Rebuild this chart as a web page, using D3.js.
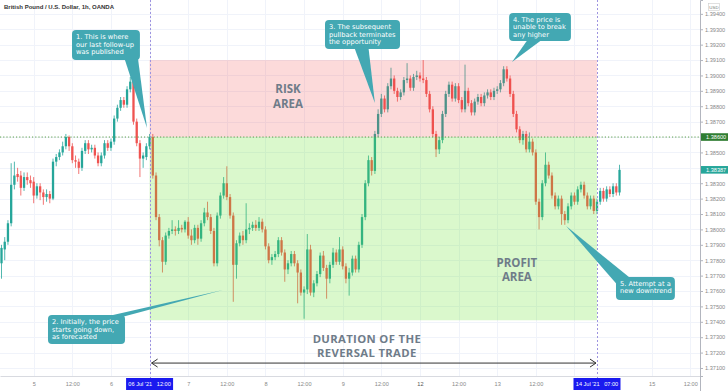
<!DOCTYPE html>
<html><head><meta charset="utf-8">
<script src="https://cdn.jsdelivr.net/npm/d3@7"></script>
<style>html,body{margin:0;padding:0;background:#fff;} svg{display:block;}</style>
</head><body>
<svg id="chart" width="728" height="391"></svg>
<script>
// ---------------- DATA ----------------
const title = "British Pound / U.S. Dollar, 1h, OANDA";
const firstHour = -10; // trading-hour index of first candle (0 = 5 Jul 00:00)
// [open, high, low, close] hourly candles
const ohlc = [
[1.3778,1.3790,1.3768,1.3788],[1.3787,1.3795,1.3780,1.3792],[1.3792,1.3806,1.3790,1.3804],[1.3804,1.3843,1.3802,1.3829],
[1.3829,1.3844,1.3826,1.3835],[1.3836,1.3840,1.3831,1.3834],[1.3835,1.3838,1.3822,1.3827],[1.3827,1.3837,1.3825,1.3834],
[1.3834,1.3837,1.3829,1.3832],[1.3832,1.3835,1.3827,1.3830],[1.3831,1.3834,1.3817,1.3822],[1.3822,1.3830,1.3820,1.3828],
[1.3828,1.3830,1.3819,1.3824],[1.3824,1.3826,1.3816,1.3821],[1.3821,1.3826,1.3818,1.3823],[1.3823,1.3825,1.3817,1.3820],
[1.3820,1.3846,1.3819,1.3844],[1.3844,1.3849,1.3841,1.3847],[1.3847,1.3852,1.3845,1.3850],[1.3850,1.3857,1.3848,1.3854],
[1.3854,1.3862,1.3852,1.3860],[1.3860,1.3861,1.3851,1.3854],[1.3854,1.3856,1.3843,1.3845],[1.3845,1.3848,1.3840,1.3844],
[1.3844,1.3846,1.3836,1.3840],[1.3840,1.3853,1.3838,1.3851],[1.3851,1.3858,1.3849,1.3856],[1.3856,1.3858,1.3849,1.3852],
[1.3852,1.3855,1.3850,1.3853],[1.3853,1.3855,1.3846,1.3848],[1.3848,1.3850,1.3841,1.3843],[1.3843,1.3850,1.3841,1.3848],
[1.3848,1.3858,1.3846,1.3856],[1.3856,1.3858,1.3851,1.3853],[1.3853,1.3859,1.3851,1.3857],[1.3857,1.3874,1.3855,1.3872],
[1.3872,1.3881,1.3870,1.3879],[1.3879,1.3886,1.3877,1.3884],[1.3884,1.3886,1.3879,1.3881],[1.3881,1.3893,1.3879,1.3891],
[1.3891,1.3899,1.3889,1.3896],[1.3896,1.3897,1.3868,1.3870],[1.3870,1.3872,1.3854,1.3856],[1.3856,1.3858,1.3834,1.3846],
[1.3846,1.3850,1.3840,1.3848],[1.3847,1.3856,1.3845,1.3854],[1.3854,1.3862,1.3852,1.3860],[1.3860,1.3862,1.3833,1.3835],
[1.3835,1.3837,1.3806,1.3808],[1.3808,1.3810,1.3789,1.3793],[1.3793,1.3795,1.3772,1.3779],[1.3779,1.3798,1.3777,1.3796],
[1.3796,1.3801,1.3794,1.3799],[1.3799,1.3806,1.3797,1.3800],[1.3800,1.3802,1.3796,1.3799],[1.3799,1.3806,1.3797,1.3801],
[1.3801,1.3803,1.3798,1.3800],[1.3800,1.3806,1.3798,1.3805],[1.3805,1.3808,1.3794,1.3796],[1.3796,1.3800,1.3790,1.3793],
[1.3793,1.3803,1.3791,1.3801],[1.3801,1.3803,1.3790,1.3794],[1.3794,1.3806,1.3792,1.3804],[1.3804,1.3814,1.3802,1.3811],
[1.3811,1.3818,1.3806,1.3808],[1.3808,1.3810,1.3797,1.3799],[1.3799,1.3801,1.3776,1.3778],[1.3778,1.3811,1.3776,1.3809],
[1.3809,1.3824,1.3807,1.3822],[1.3822,1.3834,1.3820,1.3830],[1.3830,1.3841,1.3819,1.3821],[1.3821,1.3823,1.3807,1.3809],
[1.3809,1.3811,1.3753,1.3777],[1.3777,1.3793,1.3768,1.3791],[1.3791,1.3798,1.3789,1.3796],[1.3796,1.3799,1.3790,1.3793],
[1.3793,1.3817,1.3791,1.3800],[1.3800,1.3804,1.3797,1.3801],[1.3801,1.3805,1.3799,1.3803],[1.3803,1.3806,1.3799,1.3801],
[1.3801,1.3808,1.3799,1.3805],[1.3805,1.3807,1.3798,1.3800],[1.3800,1.3802,1.3787,1.3789],[1.3789,1.3791,1.3778,1.3780],
[1.3780,1.3784,1.3777,1.3782],[1.3782,1.3786,1.3780,1.3784],[1.3784,1.3795,1.3782,1.3793],[1.3793,1.3795,1.3783,1.3785],
[1.3785,1.3787,1.3766,1.3774],[1.3774,1.3780,1.3771,1.3778],[1.3778,1.3786,1.3776,1.3784],[1.3784,1.3786,1.3776,1.3778],
[1.3778,1.3780,1.3752,1.3772],[1.3772,1.3774,1.3757,1.3759],[1.3759,1.3763,1.3742,1.3761],[1.3761,1.3797,1.3758,1.3787],
[1.3787,1.3790,1.3757,1.3759],[1.3759,1.3767,1.3756,1.3765],[1.3765,1.3773,1.3763,1.3771],[1.3771,1.3785,1.3769,1.3783],
[1.3783,1.3786,1.3773,1.3775],[1.3775,1.3777,1.3755,1.3768],[1.3768,1.3779,1.3765,1.3777],[1.3777,1.3788,1.3775,1.3785],
[1.3785,1.3787,1.3777,1.3779],[1.3779,1.3795,1.3777,1.3787],[1.3787,1.3789,1.3774,1.3776],[1.3776,1.3778,1.3765,1.3768],
[1.3768,1.3775,1.3757,1.3772],[1.3772,1.3783,1.3770,1.3781],[1.3781,1.3783,1.3772,1.3774],[1.3774,1.3792,1.3772,1.3790],
[1.3790,1.3810,1.3788,1.3808],[1.3808,1.3832,1.3806,1.3830],[1.3830,1.3848,1.3828,1.3845],[1.3845,1.3847,1.3835,1.3838],
[1.3838,1.3864,1.3836,1.3862],[1.3862,1.3878,1.3860,1.3875],[1.3875,1.3888,1.3873,1.3885],[1.3885,1.3887,1.3876,1.3878],
[1.3878,1.3895,1.3876,1.3893],[1.3893,1.3905,1.3891,1.3898],[1.3898,1.3900,1.3888,1.3890],[1.3890,1.3892,1.3883,1.3886],
[1.3886,1.3891,1.3884,1.3889],[1.3889,1.3899,1.3887,1.3897],[1.3897,1.3908,1.3895,1.3898],[1.3898,1.3900,1.3890,1.3892],
[1.3892,1.3901,1.3890,1.3899],[1.3899,1.3903,1.3897,1.3900],[1.3900,1.3902,1.3896,1.3898],[1.3898,1.3910,1.3895,1.3897],
[1.3897,1.3899,1.3886,1.3888],[1.3888,1.3890,1.3876,1.3878],[1.3878,1.3880,1.3860,1.3862],[1.3862,1.3864,1.3847,1.3852],
[1.3852,1.3860,1.3849,1.3858],[1.3858,1.3877,1.3856,1.3875],[1.3875,1.3890,1.3873,1.3888],[1.3888,1.3896,1.3886,1.3894],
[1.3894,1.3896,1.3883,1.3885],[1.3885,1.3895,1.3883,1.3893],[1.3893,1.3895,1.3882,1.3884],[1.3884,1.3886,1.3876,1.3878],
[1.3878,1.3907,1.3876,1.3890],[1.3890,1.3892,1.3880,1.3882],[1.3882,1.3884,1.3874,1.3876],[1.3876,1.3885,1.3874,1.3883],
[1.3883,1.3888,1.3881,1.3886],[1.3886,1.3888,1.3880,1.3882],[1.3882,1.3889,1.3880,1.3887],[1.3887,1.3891,1.3885,1.3889],
[1.3889,1.3891,1.3884,1.3886],[1.3886,1.3892,1.3884,1.3890],[1.3890,1.3893,1.3888,1.3891],[1.3891,1.3897,1.3889,1.3895],
[1.3895,1.3906,1.3893,1.3904],[1.3904,1.3906,1.3896,1.3898],[1.3898,1.3900,1.3886,1.3888],[1.3888,1.3890,1.3873,1.3875],
[1.3875,1.3877,1.3863,1.3865],[1.3865,1.3867,1.3856,1.3858],[1.3858,1.3864,1.3855,1.3862],[1.3862,1.3864,1.3850,1.3852],
[1.3852,1.3863,1.3850,1.3857],[1.3857,1.3859,1.3848,1.3850],[1.3850,1.3852,1.3816,1.3818],[1.3818,1.3820,1.3800,1.3808],
[1.3808,1.3832,1.3806,1.3830],[1.3830,1.3850,1.3828,1.3842],[1.3842,1.3844,1.3833,1.3835],[1.3835,1.3837,1.3820,1.3822],
[1.3822,1.3824,1.3813,1.3815],[1.3815,1.3822,1.3813,1.3820],[1.3820,1.3822,1.3803,1.3810],[1.3810,1.3812,1.3803,1.3806],
[1.3806,1.3817,1.3804,1.3815],[1.3815,1.3824,1.3813,1.3822],[1.3822,1.3824,1.3816,1.3818],[1.3818,1.3828,1.3816,1.3826],
[1.3826,1.3831,1.3824,1.3829],[1.3829,1.3831,1.3820,1.3822],[1.3822,1.3824,1.3813,1.3815],[1.3815,1.3822,1.3813,1.3820],
[1.3820,1.3822,1.3810,1.3812],[1.3812,1.3820,1.3810,1.3818],[1.3818,1.3827,1.3816,1.3825],[1.3825,1.3827,1.3818,1.3820],
[1.3820,1.3828,1.3818,1.3826],[1.3826,1.3828,1.3821,1.3823],[1.3823,1.3830,1.3821,1.3828],[1.3828,1.3830,1.3822,1.3824],
[1.3824,1.3842,1.3822,1.38387]
];
const priceTicks = d3.range(1371, 1395).map(v => v / 1000);
const timeTicks  = [0, 12, 24, 48, 60, 72, 84, 96, 108, 120, 132, 144, 156, 192, 204];
const timeLabels = ["5","12:00","6","7","12:00","8","12:00","9","12:00","12","12:00","13","12:00","15","12:00"];
const markedTimes  = [36, 175];
const markedLabels = ["06 Jul '21   12:00", "14 Jul '21   07:00"];
const refLevel = 1.386;
const lastPrice = 1.38387;
const riskZone = [1.3860, 1.3910];
const profitZone = [1.3741, 1.3860];
const callouts = [
  {lines:["1. This is where","our last follow-up","was published"], box:[11.9,33.0,1.39295,1.39100], base:[[28.2,1.39110],[32.4,1.39110]], tip:[35.2,1.38659]},
  {lines:["2. Initially, the price","starts going down,","as forecasted"], box:[4.44,28.37,1.37444,1.37256], base:[[22.6,1.37434],[28.0,1.37434]], tip:[58.8,1.37607]},
  {lines:["3. The subsequent","pullback terminates","the opportunity"], box:[90.5,113.8,1.39360,1.39172], base:[[99.6,1.39182],[104.0,1.39182]], tip:[106.0,1.38821]},
  {lines:["4. The price is","unable to break","any higher"], box:[147.7,166.9,1.39406,1.39224], base:[[153.5,1.39234],[158.0,1.39234]], tip:[148.6,1.39087]},
  {lines:["5. Attempt at a","new downtrend"], box:[180.9,199.2,1.37691,1.37542], base:[[181.3,1.37640],[185.5,1.37681]], tip:[165.4,1.38022]}
];
const riskLabel = ["RISK","AREA"], riskLabelAt = [79.0, 1.38883];
const profitLabel = ["PROFIT","AREA"], profitLabelAt = [150.1, 1.37759];
const durationLabel = ["DURATION OF THE","REVERSAL TRADE"], durationLabelAt = [103.5, 1.37262];
const durationArrowPrice = 1.37132;

// ---------------- LAYOUT ----------------
const W = 728, H = 391, plotR = 700, plotB = 376;
const svg = d3.select("#chart");
const x = d3.scaleLinear().domain([-10.47, 207]).range([0, plotR]);
const y = d3.scaleLinear().domain([1.37048, 1.39490]).range([plotB, 0]);

const candles = ohlc.map((d, i) => ({t: firstHour + i, o: d[0], h: d[1], l: d[2], c: d[3]}));

// grid
const grid = svg.append("g");
grid.selectAll(".hg").data(priceTicks).join("line")
  .attr("x1", 0).attr("x2", plotR).attr("y1", d => Math.round(y(d)) + 0.5).attr("y2", d => Math.round(y(d)) + 0.5)
  .attr("stroke", "#f0f3fa");
grid.selectAll(".vg").data(timeTicks.concat([36, 168])).join("line")
  .attr("y1", 0).attr("y2", plotB).attr("x1", d => Math.round(x(d)) + 0.5).attr("x2", d => Math.round(x(d)) + 0.5)
  .attr("stroke", "#f0f3fa");

// candles
const up = "#26a69a", dn = "#ef5350";
const cw = 2.3;
const cg = svg.append("g");
cg.selectAll("line").data(candles).join("line")
  .attr("x1", d => x(d.t)).attr("x2", d => x(d.t))
  .attr("y1", d => y(d.h)).attr("y2", d => y(d.l))
  .attr("stroke", d => d.c >= d.o ? up : dn).attr("stroke-width", 0.8);
cg.selectAll("rect").data(candles).join("rect")
  .attr("x", d => x(d.t) - cw / 2).attr("width", cw)
  .attr("y", d => y(Math.max(d.o, d.c)))
  .attr("height", d => Math.max(1, Math.abs(y(d.o) - y(d.c))))
  .attr("fill", d => d.c >= d.o ? up : dn);

// zones (overlaid with transparency)
svg.append("rect").attr("x", x(markedTimes[0])).attr("width", x(markedTimes[1]) - x(markedTimes[0]))
  .attr("y", y(riskZone[1])).attr("height", y(riskZone[0]) - y(riskZone[1]))
  .attr("fill", "rgba(242,70,70,0.2)");
svg.append("rect").attr("x", x(markedTimes[0])).attr("width", x(markedTimes[1]) - x(markedTimes[0]))
  .attr("y", y(profitZone[1])).attr("height", y(profitZone[0]) - y(profitZone[1]))
  .attr("fill", "rgba(100,225,40,0.24)");

// reference dotted line
svg.append("line").attr("x1", 0).attr("x2", plotR).attr("y1", y(refLevel)).attr("y2", y(refLevel))
  .attr("stroke", "#5a9e4a").attr("stroke-width", 1).attr("stroke-dasharray", "1.2,2");

// vertical dashed markers
svg.selectAll(".vm").data(markedTimes).join("line")
  .attr("x1", d => Math.round(x(d)) + 0.5).attr("x2", d => Math.round(x(d)) + 0.5).attr("y1", 0).attr("y2", H)
  .attr("stroke", "#9e94e0").attr("stroke-width", 1).attr("stroke-dasharray", "2,2");

// zone labels (one text element per line)
const labelFont = "'Open Sans', sans-serif";
function block(lines, at, size, gap, spacing) {
  lines.forEach((s, i) => svg.append("text").attr("text-anchor", "middle")
    .attr("font-family", labelFont).attr("font-weight", 700).attr("font-size", size)
    .attr("letter-spacing", spacing).attr("fill", "#6f7c89")
    .attr("x", x(at[0])).attr("y", y(at[1]) + i * gap).text(s));
}
block(riskLabel, riskLabelAt, 11.5, 14.5, 0);
block(profitLabel, profitLabelAt, 11.5, 14.5, 0);
block(durationLabel, durationLabelAt, 11.3, 14.2, 0.35);

// duration arrow
const ay = y(durationArrowPrice), ax0 = x(markedTimes[0]) + 2, ax1 = x(markedTimes[1]) - 1;
svg.append("line").attr("x1", ax0).attr("x2", ax1).attr("y1", ay).attr("y2", ay).attr("stroke", "#333").attr("stroke-width", 1);
svg.append("path").attr("d", `M${ax0 + 6},${ay - 4}L${ax0},${ay}L${ax0 + 6},${ay + 4}`).attr("fill", "none").attr("stroke", "#333").attr("stroke-width", 1);
svg.append("path").attr("d", `M${ax1 - 6},${ay - 4}L${ax1},${ay}L${ax1 - 6},${ay + 4}`).attr("fill", "none").attr("stroke", "#333").attr("stroke-width", 1);

// callouts
const teal = "#43a8b3";
callouts.forEach(c => {
  const g = svg.append("g");
  g.append("path").attr("d", `M${x(c.base[0][0])},${y(c.base[0][1])}L${x(c.tip[0])},${y(c.tip[1])}L${x(c.base[1][0])},${y(c.base[1][1])}Z`)
    .attr("fill", teal);
  const bx = x(c.box[0]), by = y(c.box[2]);
  g.append("rect").attr("x", bx).attr("y", by).attr("width", x(c.box[1]) - bx).attr("height", y(c.box[3]) - by)
    .attr("rx", 4).attr("fill", teal);
  const t = g.append("text").attr("font-family", "'DejaVu Sans', Verdana, sans-serif").attr("font-size", 6.7).attr("fill", "#fff");
  c.lines.forEach((s, i) => t.append("tspan").attr("x", bx + 4).attr("y", by + 9.2 + i * 7.3).text(s));
});

// title
svg.append("text").attr("x", 4).attr("y", 9).attr("font-family", "'Liberation Sans', Arial, sans-serif")
  .attr("font-weight", 700).attr("font-size", 6).attr("fill", "#333").text(title);

// axes
const axFont = "'Liberation Sans', Arial, sans-serif";
const tagged = [refLevel, lastPrice];
const yAxis = svg.append("g").attr("transform", `translate(${plotR},0)`)
  .call(d3.axisRight(y).tickValues(priceTicks).tickFormat(d3.format(".5f")).tickSize(3).tickPadding(2));
yAxis.select(".domain").attr("stroke", "#b2b5be");
yAxis.selectAll(".tick line").attr("stroke", "#b2b5be");
yAxis.selectAll("text").attr("font-family", axFont).attr("font-size", 5.6).attr("fill", "#888")
  .attr("display", d => tagged.some(p => Math.abs(p - d) < 0.0006) ? "none" : null);

const xAxis = svg.append("g").attr("transform", `translate(0,${plotB})`)
  .call(d3.axisBottom(x).tickValues(timeTicks).tickFormat((d, i) => timeLabels[i]).tickSize(0).tickPadding(6));
xAxis.select(".domain").attr("stroke", "#d8dae0");
xAxis.selectAll("text").attr("font-family", axFont).attr("font-size", 5.6)
  .attr("fill", (d, i) => timeLabels[i] === "12" ? "#555" : "#888");
svg.append("line").attr("x1", plotR + 0.5).attr("x2", plotR + 0.5).attr("y1", plotB).attr("y2", H).attr("stroke", "#b2b5be");

// highlighted time labels
markedTimes.forEach((t, i) => {
  const cx = x(t);
  svg.append("rect").attr("x", cx - 23.5).attr("y", 378).attr("width", 47).attr("height", 12).attr("fill", "#1a1aef");
  svg.append("text").attr("x", cx).attr("y", 386.2).attr("text-anchor", "middle").attr("font-family", axFont)
    .attr("font-size", 5.6).attr("fill", "#fff").attr("xml:space", "preserve").style("white-space", "pre").text(markedLabels[i]);
});

// price labels on axis
function priceTag(p, fill) {
  svg.append("rect").attr("x", plotR + 1).attr("y", y(p) - 3.8).attr("width", 27).attr("height", 7.6).attr("fill", fill);
  svg.append("text").attr("x", plotR + 6).attr("y", y(p) + 2).attr("font-family", axFont).attr("font-size", 5.6)
    .attr("fill", "#fff").text(d3.format(".5f")(p));
}
priceTag(refLevel, "#2f7d32");
priceTag(lastPrice, "#26a69a");

// currency box
svg.append("rect").attr("x", 708.5).attr("y", 3.5).attr("width", 11).attr("height", 7).attr("fill", "#fff").attr("stroke", "#ccc").attr("stroke-width", 0.6);
svg.append("text").attr("x", 714).attr("y", 8.7).attr("text-anchor", "middle").attr("font-family", axFont).attr("font-size", 4.4).attr("fill", "#777").text("USD");
</script>
</body></html>
